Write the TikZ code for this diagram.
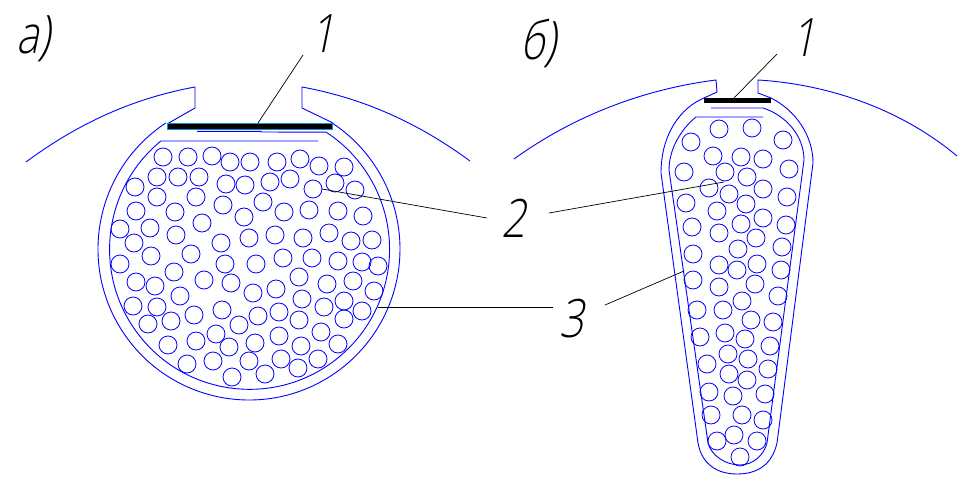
\documentclass[tikz,border=0pt]{standalone}
\usepackage{fontspec}
\newfontfamily\gostfont[FakeSlant=0.25]{Open Sans Light}
\tikzset{
	wire/.style={draw=blue,line width=0.9pt},
	strand/.style={draw=blue,line width=0.8pt},
	leader/.style={draw=black,line width=0.7pt},
	mark label/.style={font=\gostfont\fontsize{53}{53}\selectfont,inner sep=0pt,xscale=0.8}
}
\begin{document}
\begin{tikzpicture}[x=1pt,y=-1pt]
	\useasboundingbox (0,0) rectangle (971,500);

	% а) round slot
	\begin{scope}
		\draw[wire] (26,162) .. controls (80,122) and (135,98) .. (195,87) -- (195,108) -- (167,124);
		\draw[wire] (470,161) .. controls (417,122) and (362,98) .. (302,87) -- (302,108) -- (333,123);
		\draw[wire] (249,249) ++(236.6:151) arc (236.6:-56.6:151);
		\draw[wire] (318,141) -- (160.9,141) arc (230.7:-56.8:140) -- (261,132) -- (261,131.4) -- (197,131.4);
		\draw[fill=black,draw=cyan!80!blue,line width=0.8pt] (167.5,123) rectangle (332.5,129.2);
		\foreach \x/\y in {163/157,188/157,212/156,230/162,250/162,277/162,300/159,319/166,344/167,
			157/177,178/177,199/177,226/184,245/185,270/182,290/179,313/189,335/183,355/190,
			135/187,157/197,196/197,223/205,263/202,136/211,175/212,244/217,284/212,309/210,338/211,363/216,
			120/229,150/228,202/223,176/235,249/238,275/235,303/238,329/233,351/241,372/240,221/243,134/243,
			151/256,191/254,225/264,256/264,283/258,312/258,338/261,362/262,378/266,120/264,
			174/272,136/282,155/286,204/280,231/283,299/277,327/284,353/281,374/291,253/293,276/289,180/296,302/299,
			133/306,157/307,324/307,344/301,362/311,194/315,222/310,258/316,279/312,299/320,344/319,
			148/324,171/321,239/325,321/332,216/334,279/336,196/341,168/345,229/347,255/343,301/346,338/344,
			187/364,213/361,249/361,281/359,318/359,298/368,232/377,265/374}
			\draw[strand] (\x,\y) circle (9);
	\end{scope}

	% б) wedge slot
	\begin{scope}
		\draw[wire] (514,159) .. controls (575,115) and (645,89) .. (716,80) -- (717,92) -- (704,98);
		\draw[wire] (957,156) .. controls (890,100) and (810,83) .. (758,80) -- (758,93) -- (771,98);
		\draw[wire] (704,98) .. controls (680,108) and (661,135) .. (661,173) -- (698,443)
			.. controls (702,465) and (718,474) .. (737,474) .. controls (757,474) and (772,465) .. (777,443)
			-- (813,163) .. controls (813,135) and (795,110) .. (771,98);
		\draw[wire] (763,117) -- (696,117) .. controls (680,130) and (669,150) .. (669,170) -- (708,443)
			.. controls (711,455) and (725,465) .. (740,465) .. controls (753,465) and (764,455) .. (767,443)
			-- (804,160) .. controls (804,135) and (785,115) .. (763,108) -- (711,108);
		\fill[black] (704,98) rectangle (771,103);
		\foreach \x/\y in {719/129,752/128,691/142,783/140,713/156,741/157,763/159,684/172,789/169,725/172,747/177,
			709/188,729/194,763/189,787/197,686/203,746/204,717/211,741/224,763/218,692/227,786/225,719/233,756/238,
			782/247,738/249,693/254,719/265,737/270,757/264,781/270,693/280,719/287,755/284,778/296,742/301,
			697/310,723/310,751/320,773/322,700/337,725/333,745/339,770/346,728/354,748/359,707/364,768/369,
			729/374,747/380,709/392,733/396,765/394,711/415,742/415,763/420,717/441,734/435,757/441,740/457}
			\draw[strand] (\x,\y) circle (9);
	\end{scope}

	% labels
	\begin{scope}[every node/.style={mark label}]
		\node (La) at (33,39) {а)};
		\node (Lb) at (538,43) {б)};
		\node (N1a) at (323,34) {1};
		\node (N1b) at (804,38) {1};
		\node (N2) at (514,218) {2};
		\node (N3) at (572,319) {3};
	\end{scope}

	% leaders
	\begin{scope}
		\coordinate (A1) at (303,55);
		\coordinate (A2) at (258,123);
		\coordinate (B1) at (777,54);
		\coordinate (B2) at (734,98);
		\coordinate (C1) at (487,218);
		\coordinate (C2) at (322,189);
		\coordinate (D1) at (549,213);
		\coordinate (D2) at (724,182);
		\coordinate (E1) at (553,307);
		\coordinate (E2) at (378,307);
		\coordinate (F1) at (605,305);
		\coordinate (F2) at (684,271);
		\foreach \s/\t in {A1/A2,B1/B2,C1/C2,D1/D2,E1/E2,F1/F2}
			\draw[leader] (\s) -- (\t);
	\end{scope}
\end{tikzpicture}
\end{document}
